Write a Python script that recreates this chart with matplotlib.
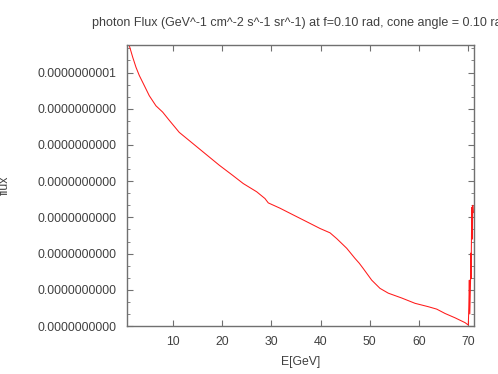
import matplotlib
matplotlib.use("Agg")
import matplotlib.pyplot as plt
from matplotlib.ticker import MultipleLocator, FormatStrFormatter

# Data (flux in units of 1e-12)
energy = [0.85, 1.19, 1.88, 2.55, 3.22, 4.24, 5.25, 6.61, 7.97, 9.31, 11.34,
          13.37, 15.40, 17.43, 19.46, 22.18, 24.33, 27.05, 28.73, 29.40, 31.78,
          34.48, 37.20, 39.90, 41.93, 43.29, 45.32, 47.0, 47.87, 48.68, 50.39,
          52.07, 53.76, 56.48, 59.18, 61.88, 63.58, 65.27, 67.30, 69.33, 70.0,
          70.1, 70.2, 70.3, 70.45, 70.5, 70.55, 70.6, 70.7, 70.8, 70.9, 71.0]
flux_e12 = [58.2, 58.1, 55.7, 53.6, 51.9, 49.8, 47.7, 45.6, 44.3, 42.6, 40.1,
            38.4, 36.7, 35.0, 33.3, 31.2, 29.5, 27.8, 26.4, 25.5, 24.4,
            23.0, 21.6, 20.2, 19.3, 18.1, 16.1, 14.0, 13.0, 11.9, 9.5,
            7.8, 6.8, 5.8, 4.7, 4.0, 3.5, 2.6, 1.7, 0.7, 0.2,
            4.0, 9.5, 2.5, 9.5, 15.1, 9.8, 14.8, 24.6, 18.0, 25.0, 23.5]
flux = [v * 1e-12 for v in flux_e12]

title = "photon Flux (GeV^-1 cm^-2 s^-1 sr^-1) at f=0.10 rad, cone angle = 0.10 rad"
xlabel = "E[GeV]"
ylabel = "flux"

plt.rcParams['font.family'] = ['Liberation Sans', 'DejaVu Sans']
fs = 8.8
txt = '#404040'
spine = '#707070'

fig = plt.figure(figsize=(4.98, 3.74), dpi=100)
ax = fig.add_axes([0.2557, 0.1283, 0.9518 - 0.2557, 0.8797 - 0.1283])
ax.plot(energy, flux, color='#ff1a1a', lw=0.75)
ax.set_xlim(0.8, 71.15)
ax.set_ylim(0, 58.2e-12)

ax.xaxis.set_major_locator(MultipleLocator(10))
ax.yaxis.set_major_locator(MultipleLocator(7.5e-12))
ax.yaxis.set_minor_locator(MultipleLocator(2.5e-12))
ax.yaxis.set_major_formatter(FormatStrFormatter('%.10f'))

ax.tick_params(axis='both', which='both', direction='in', colors=spine,
               labelcolor=txt, labelsize=fs, top=True, right=True)
ax.tick_params(axis='both', which='major', length=4, width=0.8)
ax.tick_params(axis='both', which='minor', length=2, width=0.6)
ax.tick_params(axis='x', pad=7)
ax.tick_params(axis='y', pad=8)
for s in ax.spines.values():
    s.set_color(spine)
    s.set_linewidth(1.0)

ax.set_title(title, fontsize=9.0, color=txt, pad=14)
ax.set_xlabel(xlabel, fontsize=fs, color=txt, labelpad=6)
ax.set_ylabel(ylabel, fontsize=fs, color=txt)
ax.yaxis.set_label_coords(-0.335, 0.5)

fig.savefig("out.png", dpi=100)
